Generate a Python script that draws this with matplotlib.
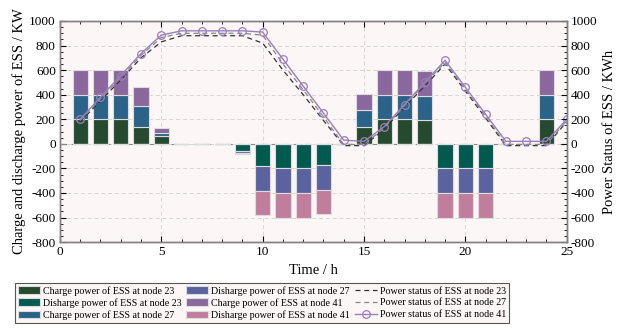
import numpy as np
import matplotlib
matplotlib.use("Agg")
import matplotlib.pyplot as plt
from matplotlib.ticker import MultipleLocator

plt.rcParams['font.family'] = ['Liberation Serif', 'DejaVu Serif']
plt.rcParams['mathtext.fontset'] = 'stix'

hours = np.arange(1, 25)
charge23 = [200, 200, 200, 140, 60, 0, 0, 0, 0, 0, 0, 0, 0, 0, 140, 200, 200, 195, 0, 0, 0, 0, 0, 200]
charge27 = [200, 200, 200, 168, 25, 0, 0, 0, 0, 0, 0, 0, 0, 0, 137, 200, 200, 195, 0, 0, 0, 0, 0, 200]
charge41 = [200, 200, 200, 157, 40, 0, 0, 0, 0, 0, 0, 0, 0, 0, 125, 200, 200, 200, 0, 0, 0, 0, 0, 200]
dis23 = [0, 0, 0, 0, 0, 0, 0, 0, -58, -182, -200, -200, -173, 0, 0, 0, 0, 0, -200, -200, -200, 0, 0, 0]
dis27 = [0, 0, 0, 0, 0, 0, 0, 0, -13, -203, -200, -200, -200, 0, 0, 0, 0, 0, -200, -200, -200, 0, 0, 0]
dis41 = [0, 0, 0, 0, 0, 0, 0, 0, -8, -196, -200, -200, -197, 0, 0, 0, 0, 0, -200, -200, -200, 0, 0, 0]

t_status = np.arange(1, 26)
status23 = [180, 350, 520, 700, 830, 880, 880, 880, 880, 820, 600, 400, 190, -15, -15, 120, 300, 470, 650, 430, 210, -15, -15, -15, 180]
status27 = [190, 365, 540, 720, 865, 900, 900, 900, 900, 885, 650, 440, 220, -5, -5, 130, 310, 490, 665, 445, 225, -5, -5, -5, 190]
status41 = [200, 380, 556, 735, 885, 920, 920, 920, 920, 910, 690, 470, 250, 30, 20, 140, 320, 500, 680, 460, 240, 20, 20, 20, 200]

c_ch23 = '#264a30'
c_di23 = '#005a50'
c_ch27 = '#2b6388'
c_di27 = '#5a63a0'
c_ch41 = '#8a689e'
c_di41 = '#c07e9c'

fig = plt.figure(figsize=(6.18, 3.28), dpi=100)
ax = fig.add_axes([0.097, 0.262, 0.820, 0.674])
ax.set_facecolor('#fcf6f6')

w = 0.75
ec = '#dcdcdc'
lw = 0.8
c23 = np.array(charge23)
c27 = np.array(charge27)
c41 = np.array(charge41)
d23 = np.array(dis23)
d27 = np.array(dis27)
d41 = np.array(dis41)
ax.axhline(0, color='#888888', lw=0.8, ls=(0, (5, 5)), zorder=1)
b1 = ax.bar(hours, c23, w, color=c_ch23, edgecolor=ec, linewidth=lw, zorder=2)
b2 = ax.bar(hours, d23, w, color=c_di23, edgecolor=ec, linewidth=lw, zorder=2)
b3 = ax.bar(hours, c27, w, bottom=c23, color=c_ch27, edgecolor=ec, linewidth=lw, zorder=2)
b4 = ax.bar(hours, d27, w, bottom=d23, color=c_di27, edgecolor=ec, linewidth=lw, zorder=2)
b5 = ax.bar(hours, c41, w, bottom=c23 + c27, color=c_ch41, edgecolor=ec, linewidth=lw, zorder=2)
b6 = ax.bar(hours, d41, w, bottom=d23 + d27, color=c_di41, edgecolor=ec, linewidth=lw, zorder=2)

l1, = ax.plot(t_status, status23, color='#333333', ls=(0, (4, 3)), lw=0.9, zorder=3)
l2, = ax.plot(t_status, status27, color='#888888', ls=(0, (4, 3)), lw=0.9, zorder=3)
l3, = ax.plot(t_status, status41, color='#9a80bb', ls='-', lw=1.0, marker='o', ms=5.5,
              mfc='none', mec='#9a80bb', mew=0.9, zorder=4)

ax.set_xlim(0, 25)
ax.set_ylim(-800, 1000)
ax.xaxis.set_major_locator(MultipleLocator(5))
ax.xaxis.set_minor_locator(MultipleLocator(1))
ax.yaxis.set_major_locator(MultipleLocator(200))
ax.yaxis.set_minor_locator(MultipleLocator(50))
ax.grid(True, which='major', color='#dcd4d4', ls=(0, (4, 3)), lw=0.7)
ax.set_axisbelow(True)
ax.tick_params(which='both', direction='in', top=True, right=False, labelsize=9.5, pad=3)
ax.tick_params(which='major', length=4)
ax.tick_params(which='minor', length=2)
for s in ax.spines.values():
    s.set_color('#808080')
    s.set_linewidth(1.0)

ax.set_xlabel('Time / h', fontsize=10.5, labelpad=4)
ax.set_ylabel('Charge and discharge power of ESS / KW', fontsize=10.5, labelpad=2)
ax.set_yticks(np.arange(-800, 1001, 200))
ax.set_yticklabels([str(v) for v in range(-800, 1001, 200)])

ax2 = ax.twinx()
ax2.set_ylim(-800, 1000)
ax2.yaxis.set_major_locator(MultipleLocator(200))
ax2.yaxis.set_minor_locator(MultipleLocator(50))
ax2.tick_params(which='both', direction='in', labelsize=9.5, pad=3)
ax2.tick_params(which='major', length=4)
ax2.tick_params(which='minor', length=2)
ax2.set_yticks(np.arange(-800, 1001, 200))
ax2.set_yticklabels([str(v) for v in range(-800, 1001, 200)])
ax2.set_ylabel('Power Status of ESS / KWh', fontsize=10.5, labelpad=4)
for s in ax2.spines.values():
    s.set_color('#808080')
    s.set_linewidth(1.0)

handles = [b1, b2, b3, b4, b5, b6, l1, l2, l3]
labels = ['Charge power of ESS at node 23', 'Disharge power of ESS at node 23',
          'Charge power of ESS at node 27', 'Disharge power of ESS at node 27',
          'Charge power of ESS at node 41', 'Disharge power of ESS at node 41',
          'Power status of ESS at node 23', 'Power status of ESS at node 27',
          'Power status of ESS at node 41']
leg = fig.legend(handles, labels, ncol=3, loc='lower center', bbox_to_anchor=(0.424, 0.0),
                 fontsize=7.2, frameon=True, fancybox=False, edgecolor='#555555',
                 facecolor='#fcf6f6', framealpha=1, handlelength=2.2, handleheight=0.8,
                 labelspacing=0.25, columnspacing=0.5, handletextpad=0.3, borderpad=0.3)
leg.get_frame().set_linewidth(0.8)

fig.savefig('out.png', dpi=100, facecolor='white')
